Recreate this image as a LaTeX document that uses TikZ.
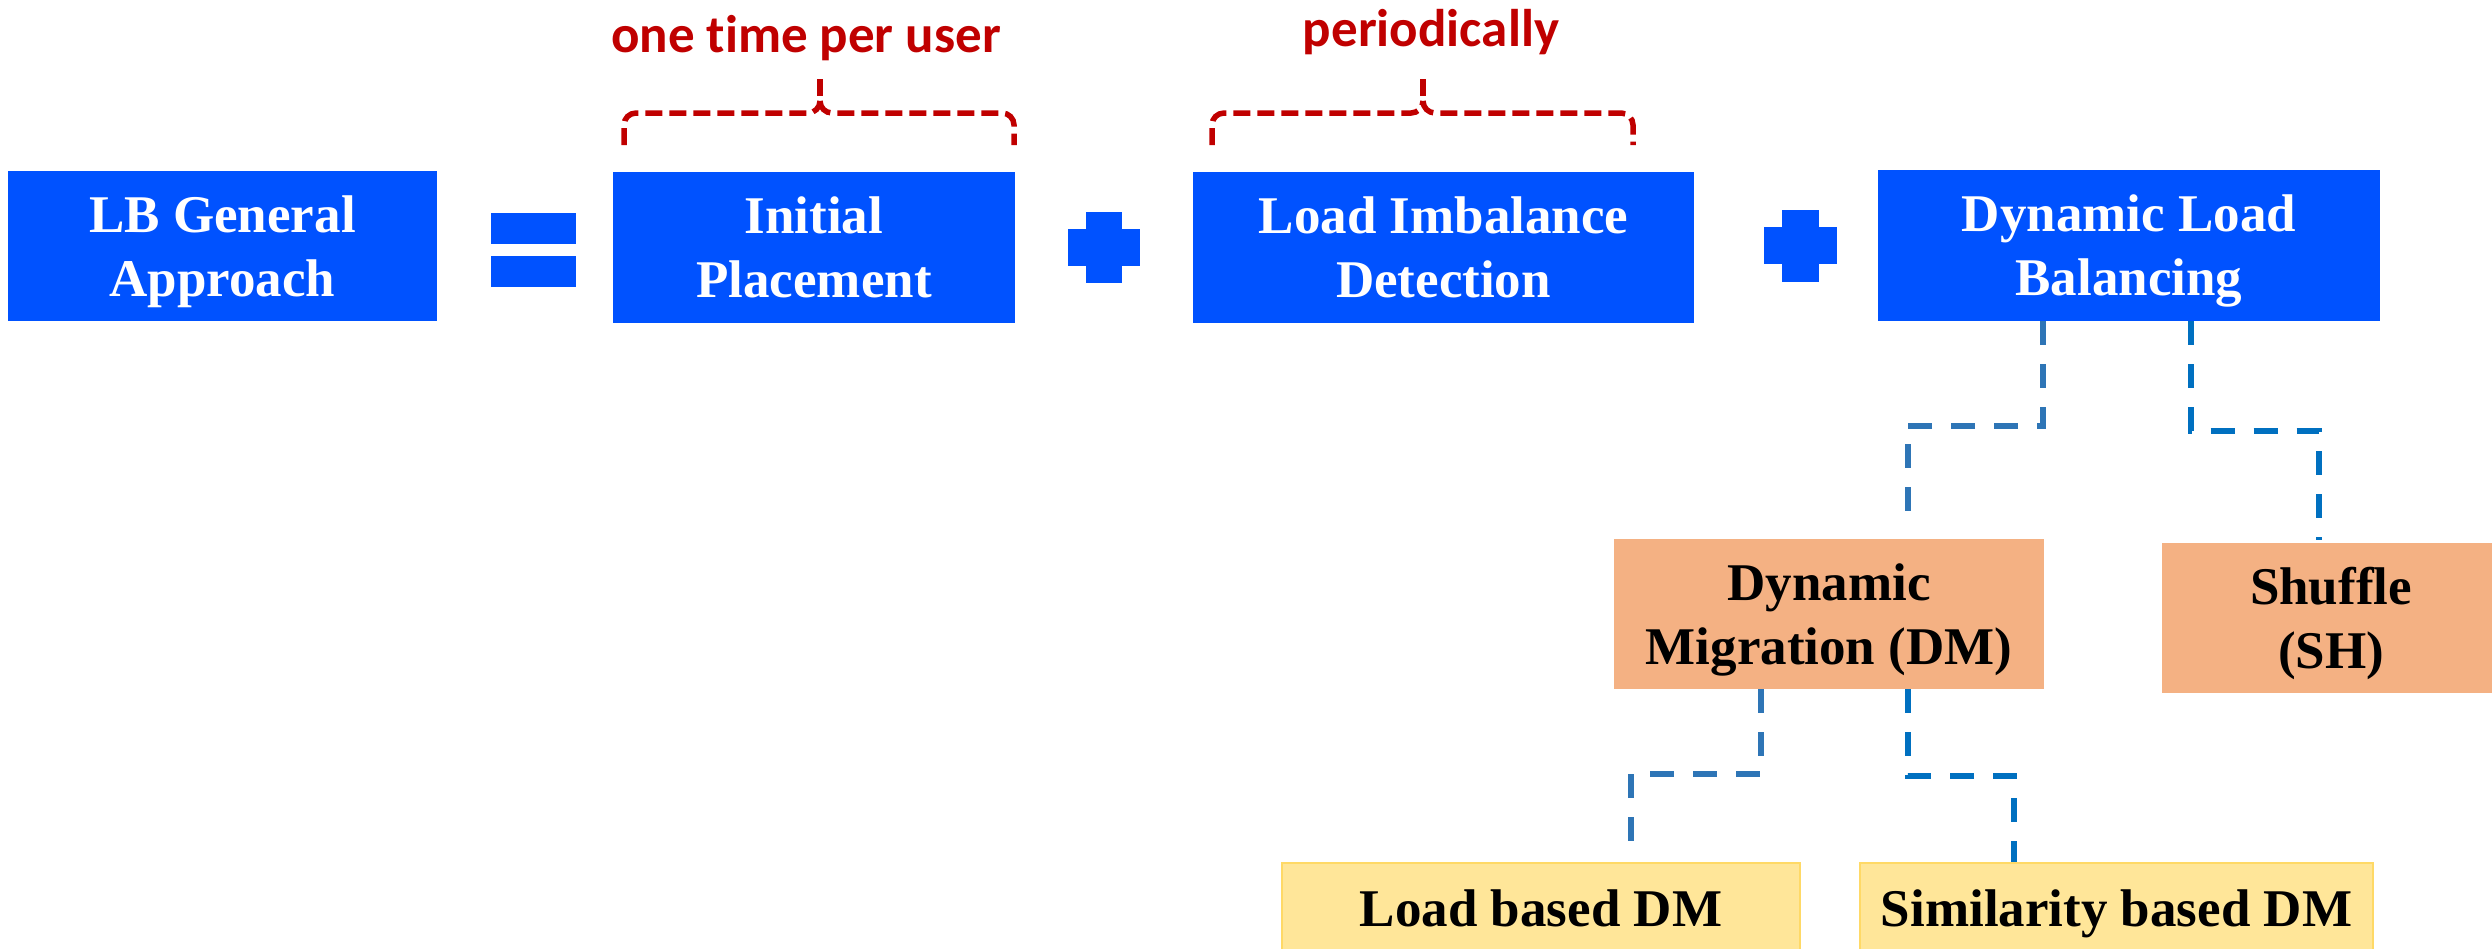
\documentclass[tikz,border=0pt]{standalone}
\usepackage{fontspec}
\setmainfont{Liberation Serif}
\newfontfamily\calibri[Ligatures=NoCommon]{Carlito}
\usetikzlibrary{calc}

\definecolor{lbBlue}{RGB}{0,82,255}
\definecolor{dmOrange}{RGB}{244,177,131}
\definecolor{subYellow}{RGB}{255,230,153}
\definecolor{subYellowLine}{RGB}{255,217,102}
\definecolor{braceRed}{RGB}{192,0,0}
\definecolor{linkSteel}{RGB}{46,117,182}
\definecolor{linkBlue}{RGB}{0,112,192}

% every text line gets the same height and depth, so the lines sit
% at the same place whatever letters they contain
\newcommand\lnstrut{\rule[-14pt]{0pt}{64pt}}

\tikzset{
  boxtext/.style={font=\bfseries\fontsize{53}{64}\selectfont, align=center, inner sep=0pt},
  bluebox/.style={boxtext, fill=lbBlue, text=white},
  orangebox/.style={boxtext, fill=dmOrange, text=black},
  yellowbox/.style={boxtext, fill=subYellow, draw=subYellowLine, line width=2pt, text=black},
  note/.style={font=\calibri\bfseries\fontsize{53}{64}\selectfont, text=braceRed, inner sep=0pt, anchor=base},
  bracket/.style={draw=braceRed, line width=5.5pt, dash pattern=on 17pt off 7pt},
  link/.style={line width=6pt, dash pattern=on 24pt off 19pt},
  linkA/.style={link, draw=linkSteel},
  linkB/.style={link, draw=linkBlue},
  mathsym/.style={fill=lbBlue}
}

\begin{document}
\begin{tikzpicture}[x=1pt, y=-1pt]
\useasboundingbox (0,0) rectangle (2492,948);
\clip (0,0) rectangle (2492,948);

% top row: the general approach and its three parts
\node[bluebox, minimum width=429pt, minimum height=150pt] (lb)  at (222.5,246)  {\lnstrut LB General\\\lnstrut Approach};
\node[bluebox, minimum width=402pt, minimum height=151pt] (ip)  at (814,247.5)  {\lnstrut Initial\\\lnstrut Placement};
\node[bluebox, minimum width=501pt, minimum height=151pt] (lid) at (1443.5,247.5) {\lnstrut Load Imbalance\\\lnstrut Detection};
\node[bluebox, minimum width=502pt, minimum height=151pt] (dlb) at (2129,245.5) {\lnstrut Dynamic Load\\\lnstrut Balancing};

% equals and plus signs
\fill[mathsym] (491,213) rectangle (576,244);
\fill[mathsym] (491,256) rectangle (576,287);
\fill[mathsym] (1086,212) rectangle (1122,283);
\fill[mathsym] (1068,229) rectangle (1140,266);
\fill[mathsym] (1782,210) rectangle (1819,282);
\fill[mathsym] (1764,227) rectangle (1837,264);

% frequency notes with dashed braces
\node[note] (once) at (806,52) {one time per user};
\node[note] (peri) at (1431,46) {periodically};

\draw[bracket] (624,145) -- (624,125) to[out=90,in=180] (636,113) -- (808,113)
  to[out=0,in=-90] (820,101);
\draw[bracket] (820,79) -- (820,101);
\draw[bracket] (820,101) to[out=-90,in=180] (832,113) -- (1002,113)
  to[out=0,in=90] (1014,125) -- (1014,145);

\draw[bracket] (1212,145) -- (1212,125) to[out=90,in=180] (1224,113) -- (1411,113)
  to[out=0,in=-90] (1423,101);
\draw[bracket] (1423,79) -- (1423,101);
\draw[bracket] (1423,101) to[out=-90,in=180] (1435,113) -- (1621,113)
  to[out=0,in=90] (1633,125) -- (1633,145);

% second level: the two balancing techniques
\node[orangebox, minimum width=430pt, minimum height=150pt] (dm) at (1829,614) {\lnstrut Dynamic\\\lnstrut Migration (DM)};
\node[orangebox, minimum width=338pt, minimum height=150pt] (sh) at (2331,618) {\lnstrut Shuffle\\\lnstrut (SH)};

% third level: the two migration variants
\node[yellowbox, minimum width=518pt, minimum height=90pt] (ldm) at (1541,908) {\lnstrut Load based DM};
\node[yellowbox, minimum width=513pt, minimum height=90pt] (sdm) at (2116.5,908) {\lnstrut Similarity based DM};

% elbow connectors
\coordinate (a1) at ($(dlb.south west)+(165,0)$);
\coordinate (a2) at ($(dm.north west)+(294,-9)$);
\draw[linkA] (a1) |- ($(a1)!0.5!(a2)$) -| (a2);

\coordinate (b1) at ($(dlb.south west)+(313,0)$);
\coordinate (b2) at ($(sh.north west)+(157,-3)$);
\draw[linkB] (b1) |- ($(b1)!0.5!(b2)$) -| (b2);

\coordinate (c1) at ($(dm.south west)+(147,0)$);
\coordinate (c2) at ($(ldm.north west)+(350,-18)$);
\draw[linkA] (c1) |- ($(c1)!0.55!(c2)$) -| (c2);

\coordinate (d1) at ($(dm.south west)+(294,0)$);
\coordinate (d2) at ($(sdm.north west)+(155,0)$);
\draw[linkB] (d1) |- ($(d1)!0.5!(d2)$) -| (d2);
\end{tikzpicture}
\end{document}
